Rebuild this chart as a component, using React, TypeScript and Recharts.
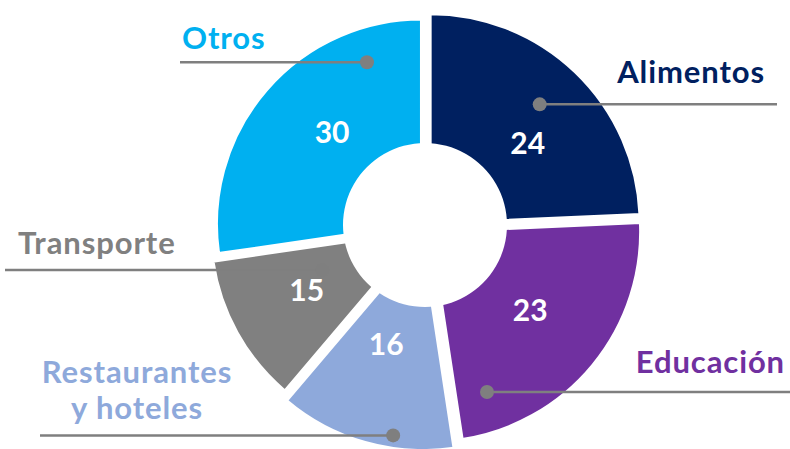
import React from 'react';
import { PieChart, Pie, Cell, Sector } from 'recharts';

// slice shares, value labels as printed on the chart
const categories = ['Alimentos', 'Educación', 'Restaurantes\ny hoteles', 'Transporte', 'Otros'];
const shares = [24.3, 23.3, 13.6, 11.5, 27.3];
const valueLabels = [24, 23, 16, 15, 30];

const COLORS = ['#002060', '#7030A0', '#8EA9DB', '#808080', '#00B0F0'];
const LINE = '#7F7F7F';
const FONT = 'Lato, "DejaVu Sans", sans-serif';

const CX = 426;
const CY = 228;
const R = 210;
const HOLE = 82;
const RAD = Math.PI / 180;

// per-slice explosion / radius tweak (px)
const explode = [6, 6, 13, 6, 6];
const radiusTrim = [0, 0, 0, 0, 5];

// callout placement: dot on the slice (angle/radius), end of leader line, text spot
const callouts = [
  { valA: 40.1, valR: 133, dotA: 47.4, dotR: 168, lineTo: 777, textX: 765, textDy: -21, anchor: 'end' },
  { valA: -37.9, valR: 132, dotA: -69.6, dotR: 175, lineTo: 790, textX: 785, textDy: -19, anchor: 'end' },
  { valA: -109, valR: 122, dotA: -99, dotR: 210, lineTo: 40, textX: 137, textDy: -52, anchor: 'middle' },
  { valA: -152.9, valR: 134, dotA: -158, dotR: 112, lineTo: 5, textX: 18, textDy: -16, anchor: 'start' },
  { valA: 134.1, valR: 135, dotA: 109.6, dotR: 176, lineTo: 180, textX: 182, textDy: -13, anchor: 'start' },
];

const data = categories.map((name, i) => ({ name, share: shares[i], value: valueLabels[i] }));

const explodedSector = (props: any) => {
  const { cx, cy, midAngle, outerRadius, index } = props;
  const i = index ?? data.findIndex((d) => d.name === props.name);
  const e = explode[i] ?? 6;
  const dx = e * Math.cos(-midAngle * RAD);
  const dy = e * Math.sin(-midAngle * RAD);
  return <Sector {...props} cx={cx + dx} cy={cy + dy} outerRadius={outerRadius - (radiusTrim[i] ?? 0)} />;
};

const renderLabel = (props: any) => {
  const { cx, cy, index } = props;
  const c = callouts[index];
  const d = data[index];
  const vx = cx + c.valR * Math.cos(c.valA * RAD);
  const vy = cy - c.valR * Math.sin(c.valA * RAD);
  const px = cx + c.dotR * Math.cos(c.dotA * RAD);
  const py = cy - c.dotR * Math.sin(c.dotA * RAD);
  const lines = d.name.split('\n');
  return (
    <g>
      <line x1={px} y1={py} x2={c.lineTo} y2={py} stroke={LINE} strokeWidth={2.5} />
      <circle cx={px} cy={py} r={7} fill={LINE} />
      {lines.map((ln, k) => (
        <text
          key={k}
          x={c.textX}
          y={py + c.textDy + k * 36}
          textAnchor={c.anchor as any}
          fill={COLORS[index]}
          fontSize={31}
          fontWeight={700}
          letterSpacing={0.9}
          fontFamily={FONT}
        >
          {ln}
        </text>
      ))}
      <text
        x={vx}
        y={vy}
        textAnchor="middle"
        dominantBaseline="central"
        fill="#fff"
        fontSize={30}
        fontWeight={700}
        fontFamily={FONT}
      >
        {d.value}
      </text>
    </g>
  );
};

export default function App() {
  return (
    <div style={{ position: 'absolute', left: 0, top: 0, width: 790, height: 449, background: '#fff' }}>
      <PieChart width={790} height={449} margin={{ top: 0, right: 0, bottom: 0, left: 0 }}>
        <Pie
          data={data}
          dataKey="share"
          nameKey="name"
          cx={CX}
          cy={CY}
          innerRadius={0}
          outerRadius={R}
          startAngle={90}
          endAngle={-270}
          stroke="#fff"
          strokeWidth={3}
          shape={explodedSector}
          activeShape={explodedSector}
          label={renderLabel}
          labelLine={false}
          isAnimationActive={false}
        >
          {data.map((d, i) => (
            <Cell key={d.name} fill={COLORS[i]} />
          ))}
        </Pie>
        <Pie
          data={[{ hole: 1 }]}
          dataKey="hole"
          cx={CX - 1}
          cy={CY - 3}
          outerRadius={HOLE}
          fill="#fff"
          stroke="none"
          isAnimationActive={false}
        />
      </PieChart>
    </div>
  );
}
